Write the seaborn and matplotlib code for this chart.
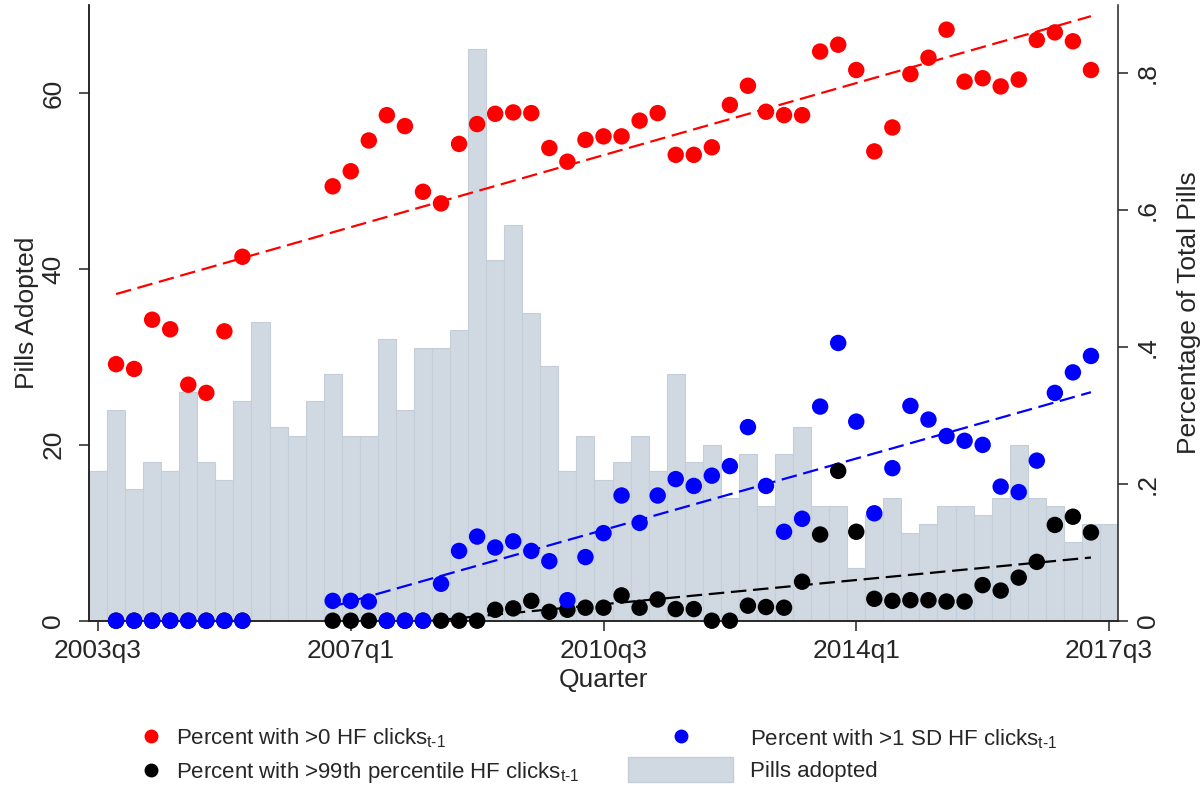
import pandas as pd
import seaborn as sns
import matplotlib.pyplot as plt
from matplotlib.lines import Line2D
from matplotlib.patches import Patch

# Quarters 2003q3 .. 2017q3 (57 quarters), x positions are quarter index
quarter_idx = list(range(57))
tick_pos = [0, 14, 28, 42, 56]
tick_labels = ['2003q3', '2007q1', '2010q3', '2014q1', '2017q3']

# Pills adopted per quarter (left axis)
pills = [17, 24, 15, 18, 17, 26, 18, 16, 25, 34,
         22, 21, 25, 28, 21, 21, 32, 24, 31, 31,
         33, 65, 41, 45, 35, 29, 17, 21, 16, 18,
         21, 17, 28, 18, 20, 14, 19, 13, 19, 22,
         13, 13, 6, 12, 14, 10, 11, 13, 13, 12,
         14, 20, 14, 13, 9, 11, 11]

# Share series (right axis): 2003q4-2005q2 and 2006q4-2017q2
early_idx = [1, 2, 3, 4, 5, 6, 7, 8]
late_idx = list(range(13, 56))

red_early = [0.375, 0.368, 0.440, 0.426, 0.345, 0.333, 0.423, 0.532]
red_late = [0.635, 0.657, 0.702, 0.739, 0.723, 0.627, 0.610, 0.697, 0.726, 0.741,
            0.743, 0.742, 0.691, 0.671, 0.703, 0.708, 0.708, 0.731, 0.742, 0.681,
            0.681, 0.692, 0.754, 0.782, 0.744, 0.739, 0.739, 0.832, 0.842, 0.805,
            0.686, 0.721, 0.799, 0.823, 0.864, 0.788, 0.793, 0.781, 0.791, 0.849,
            0.860, 0.847, 0.805]

blue_early = [0, 0, 0, 0, 0, 0, 0, 0]
blue_late = [0.029, 0.029, 0.028, 0, 0, 0, 0.054, 0.102, 0.123, 0.107,
             0.116, 0.102, 0.087, 0.030, 0.093, 0.128, 0.183, 0.143, 0.183, 0.207,
             0.197, 0.212, 0.226, 0.283, 0.197, 0.130, 0.149, 0.313, 0.406, 0.291,
             0.157, 0.223, 0.314, 0.294, 0.270, 0.263, 0.257, 0.196, 0.188, 0.234,
             0.333, 0.363, 0.387]

black_early = [0, 0, 0, 0, 0, 0, 0, 0]
black_late = [0, 0, 0, 0, 0, 0, 0, 0, 0, 0.016,
              0.018, 0.029, 0.013, 0.016, 0.019, 0.019, 0.037, 0.019, 0.031, 0.017,
              0.017, 0, 0, 0.022, 0.020, 0.019, 0.057, 0.126, 0.219, 0.130,
              0.032, 0.029, 0.030, 0.030, 0.028, 0.028, 0.052, 0.044, 0.063, 0.086,
              0.140, 0.152, 0.129]

BAR_COLOR = '#D0D9E2'
BAR_EDGE = '#C4CED8'

sns.set_style('ticks')
plt.rcParams['font.family'] = ['Liberation Sans', 'DejaVu Sans']
plt.rcParams['mathtext.fontset'] = 'custom'
plt.rcParams['mathtext.rm'] = 'Liberation Sans'

red_df = pd.DataFrame({'q': early_idx + late_idx, 'v': red_early + red_late})
blue_df = pd.DataFrame({'q': early_idx + late_idx, 'v': blue_early + blue_late})
black_df = pd.DataFrame({'q': early_idx + late_idx, 'v': black_early + black_late})

fig, ax = plt.subplots(figsize=(12.04, 7.86), dpi=100)
fig.subplots_adjust(left=0.0739, right=0.9286, bottom=0.2103, top=0.9936)

# bars: pills adopted
sns.barplot(x=quarter_idx, y=pills, native_scale=True, width=1.0, color=BAR_COLOR,
            saturation=1, edgecolor=BAR_EDGE, linewidth=0.8, errorbar=None, ax=ax)
ax.set_xlim(-0.5, 56.5)
ax.set_ylim(0, 70)

# shares on the right axis with linear fits
ax2 = ax.twinx()
dash = (0, (7, 3))
sns.regplot(data=red_df, x='q', y='v', scatter=False, ci=None, color='#FF0000',
            line_kws=dict(ls=dash, lw=1.6, zorder=2), ax=ax2)
sns.regplot(data=blue_df[blue_df.q >= 13], x='q', y='v', scatter=False, ci=None,
            color='#0000FF', line_kws=dict(ls=dash, lw=1.6, zorder=2), ax=ax2)
sns.regplot(data=black_df[black_df.q >= 13], x='q', y='v', scatter=False, ci=None,
            color='black', line_kws=dict(ls=dash, lw=1.6, zorder=2), ax=ax2)

sns.scatterplot(data=black_df, x='q', y='v', color='black', s=140, edgecolor='none',
                ax=ax2, zorder=3, legend=False, clip_on=False)
sns.scatterplot(data=blue_df, x='q', y='v', color='#0000FF', s=140, edgecolor='none',
                ax=ax2, zorder=3.1, legend=False, clip_on=False)
sns.scatterplot(data=red_df, x='q', y='v', color='#FF0000', s=140, edgecolor='none',
                ax=ax2, zorder=3.2, legend=False, clip_on=False)
ax2.set_ylim(0, 0.9)
ax.set_xlim(-0.5, 56.5)

# axes styling
for a in (ax, ax2):
    a.spines['top'].set_visible(False)
    for s in a.spines.values():
        s.set_linewidth(1.1)
        s.set_color('#222222')
ax.spines['right'].set_visible(False)

ax.set_xticks(tick_pos)
ax.set_xticklabels(tick_labels)
ax.set_yticks([0, 20, 40, 60])
ax.set_yticklabels(['0', '20', '40', '60'], rotation=90, va='center')
ax2.set_yticks([0, 0.2, 0.4, 0.6, 0.8])
ax2.set_yticklabels(['0', '.2', '.4', '.6', '.8'], rotation=90, va='center')

ax.tick_params(axis='x', length=7, width=1.1, labelsize=19, pad=6, color='#222222')
ax.tick_params(axis='y', length=7, width=1.1, labelsize=19, pad=10, color='#222222')
ax2.tick_params(axis='y', length=7, width=1.1, labelsize=19, pad=6, color='#222222')

ax.set_xlabel('Quarter', fontsize=19, labelpad=4)
ax.set_ylabel('Pills Adopted', fontsize=19, labelpad=2)
ax2.set_ylabel('Percentage of Total Pills', fontsize=19, labelpad=12)
ax2.set_xlabel('')

# legend below the plot, two columns
red_h = Line2D([], [], marker='o', ls='none', color='#FF0000', markersize=9)
black_h = Line2D([], [], marker='o', ls='none', color='black', markersize=9)
blue_h = Line2D([], [], marker='o', ls='none', color='#0000FF', markersize=9)
bar_h = Patch(facecolor=BAR_COLOR, edgecolor=BAR_EDGE)

sub = r'$_{\mathregular{t\text{-}1}}$'
fig.legend(handles=[red_h, black_h],
           labels=['Percent with >0 HF clicks' + sub,
                   'Percent with >99th percentile HF clicks' + sub],
           loc='upper left', bbox_to_anchor=(136 / 1204, 1 - 726 / 786),
           frameon=False, fontsize=16, handlelength=1.35, handletextpad=0.45,
           labelspacing=0.45, borderpad=0, borderaxespad=0)
fig.legend(handles=[blue_h, bar_h],
           labels=['Percent with >1 SD HF clicks' + sub, 'Pills adopted'],
           loc='upper left', bbox_to_anchor=(628 / 1204, 1 - 726 / 786),
           frameon=False, fontsize=16, handlelength=4.73, handleheight=1.35,
           handletextpad=0.77, labelspacing=0.25, borderpad=0, borderaxespad=0)

fig.savefig('out.png', dpi=100)
